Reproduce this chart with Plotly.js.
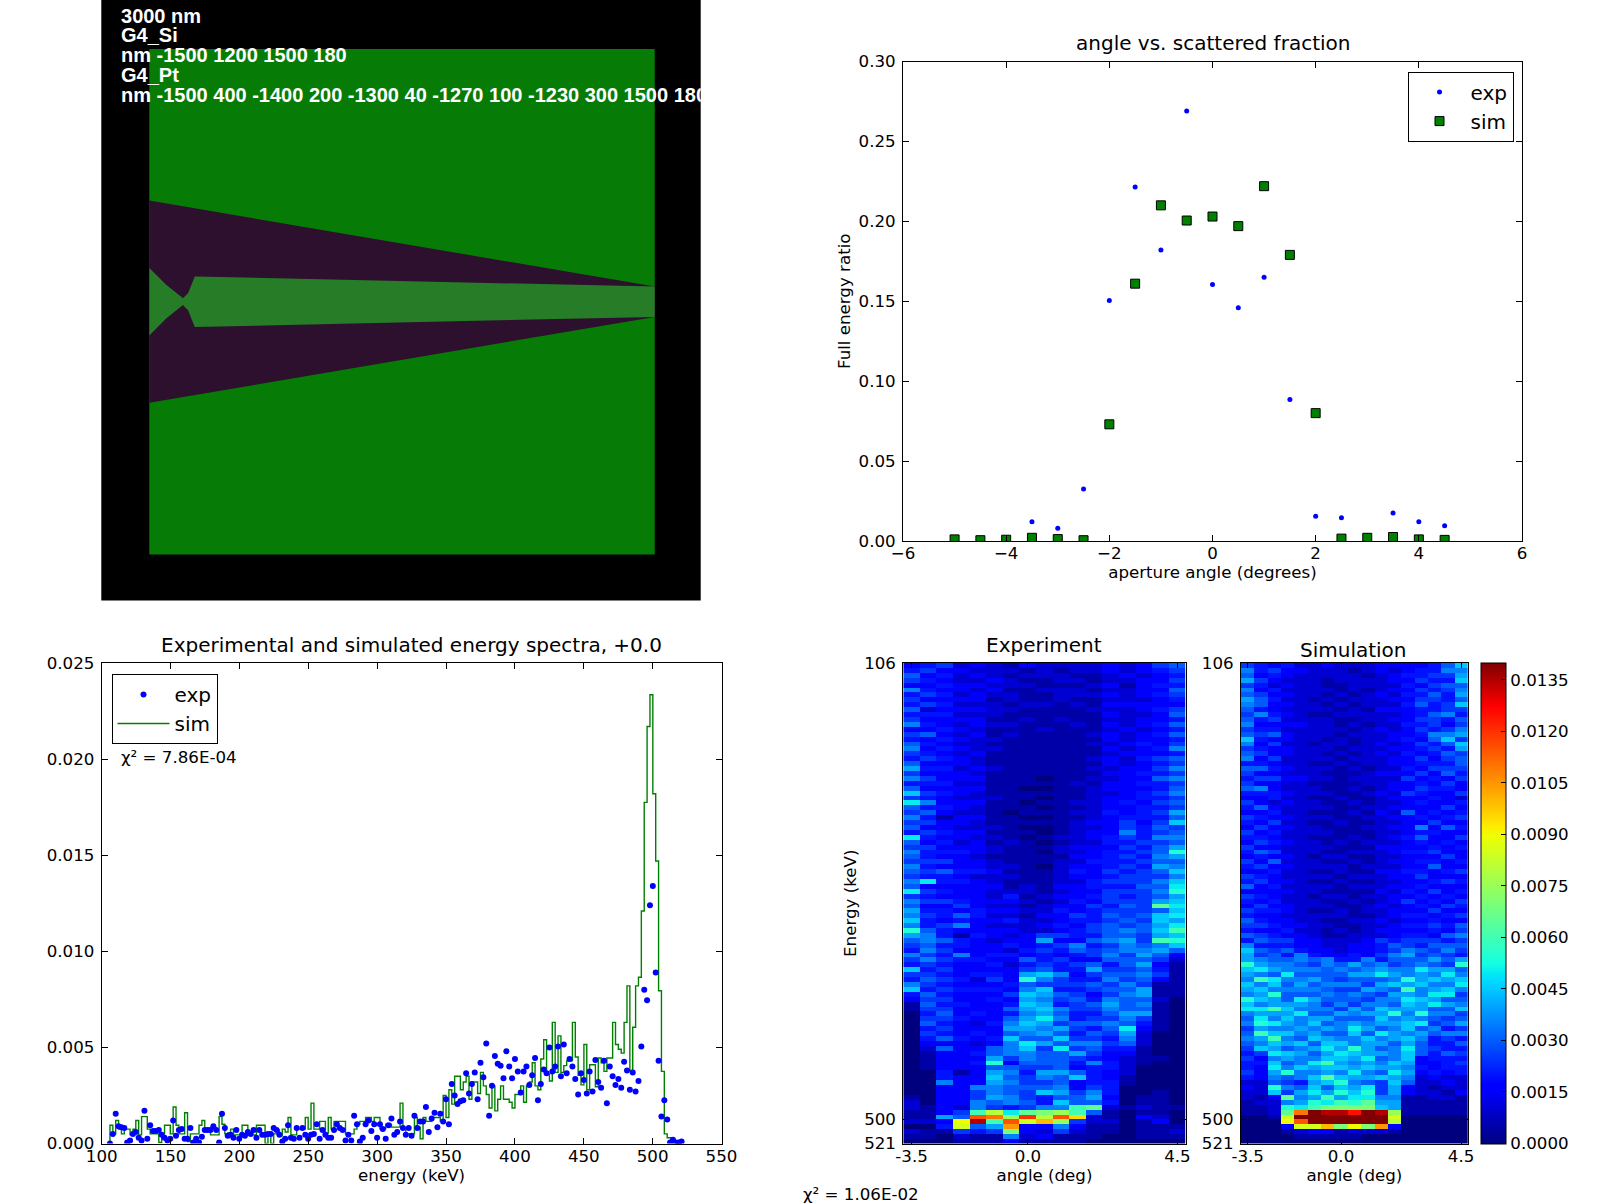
<!DOCTYPE html>
<html><head><meta charset="utf-8">
<script src="https://cdn.plot.ly/plotly-3.0.1.min.js"></script>
<style>html,body{margin:0;padding:0;background:#fff}</style></head>
<body><div id="chart" style="width:1604px;height:1204px"></div>
<script>
// Geometry panel (nm)
const boxX=[-1500,1500,1500,-1500,-1500];
const boxY=[1500,1500,-1500,-1500,1500];
const siX=[-1500,1500];
const siThickness=[1200,180];
const ptX=[-1500,-1400,-1300,-1270,-1230,1500];
const ptThickness=[400,200,40,100,300,180];
const geometryLines=["3000 nm","G4_Si","nm -1500 1200 1500 180","G4_Pt","nm -1500 400 -1400 200 -1300 40 -1270 100 -1230 300 1500 180"];

// Angle vs. scattered fraction
const ratioAngles=[-5,-4.5,-4,-3.5,-3,-2.5,-2,-1.5,-1,-0.5,0,0.5,1,1.5,2,2.5,3,3.5,4,4.5];
const ratioExp=[0.0005,0.0005,0.0005,0.012,0.008,0.0325,0.1505,0.2215,0.182,0.269,0.1605,0.146,0.165,0.0885,0.0155,0.0145,0.003,0.0175,0.012,0.0095];
const ratioSim=[0.001,0.0005,0.0008,0.002,0.0012,0.0005,0.073,0.161,0.21,0.2005,0.203,0.197,0.222,0.179,0.08,0.0015,0.002,0.0025,0.001,0.0007];

// Energy spectra, values in units of 1e-3
const specExp=[0,.5,1.55,.9,.85,.8,.05,.15,.5,.6,.3,.15,1.7,.25,.95,.65,.65,.7,.45,.3,.15,.25,1.2,.4,.7,.75,.25,.25,.8,.05,.25,.05,.35,.7,.7,.7,.9,.7,.05,1.55,.8,.4,.45,.3,.7,.25,.45,.4,.6,.5,.7,.3,.7,.45,.45,.5,.5,.8,.7,.45,.1,.25,.95,.3,.25,.8,.3,.8,.45,.25,.45,.5,1,.25,.7,.45,.3,.3,.7,1,.8,.7,.15,.45,.15,1.45,1,.1,.3,1,1.2,.65,1,.3,1,.75,.25,.95,1.3,.45,.6,1.15,.8,.45,.8,.4,1.45,.8,1.15,1.15,1.9,.6,1.3,1.6,.85,1.55,1.15,2.3,1,3.1,2.5,2.05,2.2,2.25,3.65,2.6,3.1,3.7,2.3,4.2,3.45,5.2,1.45,3,4.55,4.15,4.05,3.4,4.8,4,3.4,4.4,3.75,2.65,3.75,4,3.05,3.55,4.45,2.25,3.1,3.85,3.65,5,3.75,4,5.05,3.5,5.15,3.65,4.4,4,3.35,2.55,3.65,3.3,2.6,3.75,2.7,4.35,3.2,2.9,4.3,2.1,4,3.5,3.05,3.35,2.9,4.25,3.8,2.8,3.7,2.7,3.25,5.05,8,7.45,12.4,13.4,8.9,4.3,1.4,2.25,1.25,.05,.2,.05,.05,.1];
const specSim=[.95,.5,1.2,.75,.5,.75,.75,.45,.75,1.2,.45,1.4,1.4,.75,.5,.5,.5,.05,.5,.95,.95,.5,1.9,.95,.5,.5,1.6,.1,.5,.5,.5,.95,1.2,.75,.75,.45,.45,.45,1.4,1,.5,.55,.75,.45,.45,.45,.95,.95,.45,.45,.45,.95,.95,.95,0,.45,0,.5,.7,.4,.75,.6,1.35,.45,.45,.75,.75,.75,1.35,.75,2.1,.75,.75,1.15,1.15,.55,1.35,.75,1.15,1.15,1.15,1.15,.5,.5,.5,.75,1,1.15,1.15,1.35,1.35,1.15,1.35,1.35,.75,.75,1,1,.85,.85,.85,2.1,.75,.5,.5,.5,1.35,.85,.25,1.35,1.15,1.15,1.35,1.35,1.35,1.15,2.5,1.35,2.8,2.05,3.5,3.5,2.8,3.2,3.5,2.3,3.2,3.2,2.6,3.7,3,2.55,1.85,3,1.7,2.3,3,2.3,2.3,2.15,1.85,2.55,2.55,3,2.15,3,3.2,4.2,3,2.8,4.4,5.4,3.6,3.25,6.3,3.7,5.6,3.7,4.05,4.3,4.3,6.3,4.5,3.55,3.05,5.15,2.8,4.1,4.1,2.95,4.45,4.2,3.75,4.45,4.45,6.3,5.15,4.9,4.7,6.3,8.2,3.8,6.05,8.2,8.65,12.1,17.75,21.7,23.35,18.2,14.7,7.95,3.75,.5,.3,.3,.1,0,0,0];
const specTicksX=[100,150,200,250,300,350,400,450,500,550];
const specTicksY=[0,0.005,0.01,0.015,0.02,0.025];

// Maps: columns are angles, rows run down in energy; units of 0.0005
const mapAngles=[-3.5,-3,-2.5,-2,-1.5,-1,-0.5,0,0.5,1,1.5,2,2.5,3,3.5,4,4.5];
const mapExp=[
[3,4,5,2,3,2,1,3,2,2,2,2,3,2,3,5,6],[4,5,3,3,2,2,2,1,2,1,2,2,3,2,3,4,5],[6,3,4,2,3,2,1,2,2,2,1,1,2,3,2,3,4],[5,4,3,2,2,3,2,1,1,2,2,1,2,2,3,3,5],
[3,3,4,3,3,2,2,2,1,1,1,2,3,1,3,4,4],[7,4,3,3,2,3,1,1,2,2,2,1,2,2,3,3,6],[4,5,4,2,3,2,2,1,1,2,2,2,3,2,3,4,5],[5,3,3,3,3,1,2,1,1,2,1,1,2,2,2,3,4],
[4,5,4,2,2,2,1,2,2,1,2,1,3,3,3,3,3],[6,2,3,3,3,2,2,1,1,1,1,2,2,2,3,4,5],[4,4,4,2,2,2,1,1,1,1,1,1,3,2,2,3,6],[5,3,3,3,3,1,1,2,1,2,1,1,2,2,3,3,4],
[7,4,3,2,3,2,2,1,1,1,2,1,3,2,3,4,6],[3,3,4,3,2,1,1,1,2,1,1,1,2,3,2,3,4],[5,6,3,2,3,1,2,1,1,1,1,2,3,2,3,4,6],[4,3,4,3,2,2,1,1,1,1,1,1,3,2,3,3,4],
[6,4,3,2,2,1,1,1,1,1,1,2,2,3,4,3,5],[7,3,4,3,2,2,1,1,1,1,1,1,3,2,3,4,7],[5,4,3,2,3,1,1,1,1,1,1,1,2,3,3,3,4],[4,5,4,3,2,1,1,1,1,1,1,2,3,2,4,5,6],
[6,3,3,3,2,1,1,1,1,1,1,1,3,2,3,4,5],[8,4,4,2,3,2,1,1,1,1,1,2,2,3,3,5,7],[5,3,3,3,2,1,1,1,1,1,1,1,3,3,4,4,5],[7,5,3,3,3,1,1,1,0,1,1,2,2,3,3,6,7],
[4,4,4,2,2,1,1,1,1,1,2,1,3,3,4,4,5],[6,3,3,3,3,1,1,0,0,1,1,2,3,3,3,4,6],[9,5,4,3,2,1,1,1,1,1,1,2,2,3,4,5,7],[5,4,3,2,2,2,1,1,0,1,1,2,3,3,4,4,5],
[10,7,3,3,3,1,1,0,1,1,2,2,3,4,3,5,6],[6,4,4,3,2,1,1,1,0,1,1,2,3,3,4,4,5],[5,6,3,2,2,1,0,1,1,1,2,2,4,3,4,5,8],[7,4,1,3,3,1,1,0,0,1,1,2,3,4,4,4,6],
[5,5,3,3,2,1,1,1,1,1,2,3,3,5,3,5,9],[6,3,3,2,2,2,1,0,0,1,2,2,3,5,4,6,5],[4,5,4,3,3,1,1,1,0,1,2,3,3,7,4,5,6],[10,4,3,3,2,2,1,0,1,2,2,3,4,5,4,7,7],
[6,3,4,2,3,1,2,1,0,1,2,2,4,4,5,5,6],[5,5,3,3,3,2,1,1,1,2,3,3,3,5,4,6,8],[7,4,4,4,3,2,1,1,0,2,2,3,4,4,5,6,11],[6,4,3,3,2,1,1,1,1,1,3,3,4,5,4,7,8],
[5,5,5,3,3,2,1,1,1,2,2,4,4,4,5,6,6],[7,4,3,3,3,2,2,1,0,2,3,3,4,5,4,8,7],[6,5,6,4,4,3,1,1,1,2,4,3,5,4,5,6,9],[5,4,4,3,2,2,2,1,1,2,3,3,4,5,5,5,7],
[7,10,4,4,3,2,1,1,1,2,2,4,5,5,5,7,9],[6,3,3,3,3,3,1,2,1,3,3,4,4,4,6,6,10],[10,5,4,3,3,2,2,2,1,2,3,3,5,5,5,7,11],[5,4,3,3,3,2,4,1,2,3,3,4,5,4,5,6,8],
[7,5,5,4,3,3,3,2,1,2,4,3,5,5,5,8,9],[6,3,3,5,3,2,2,1,2,3,3,5,4,6,5,13,10],[8,4,4,3,4,3,3,2,2,4,3,4,5,5,5,6,9],[7,5,4,6,4,2,2,1,3,3,5,4,6,5,6,9,10],
[9,4,3,4,3,3,4,2,2,3,4,4,5,6,5,9,8],[7,4,5,7,3,2,2,2,3,4,3,5,6,5,6,8,10],[11,6,4,3,3,3,3,2,2,3,4,5,6,7,6,9,12],[8,7,4,1,4,3,2,3,5,5,4,4,6,6,5,8,9],
[6,7,6,4,3,2,3,3,8,3,3,6,7,8,5,12,11],[5,6,4,4,3,3,4,3,4,5,7,4,5,7,6,7,9],[4,7,5,3,3,3,2,4,5,4,6,5,6,7,7,8,6],[7,5,4,7,3,4,4,3,4,3,4,5,7,5,8,6,3],
[5,7,5,4,4,3,3,6,4,5,3,3,6,6,6,5,2],[4,5,4,3,3,4,2,4,5,4,5,6,4,6,8,3,1],[9,4,5,3,3,3,3,5,6,4,4,8,5,5,6,4,1],[5,5,4,3,4,4,3,8,9,7,3,5,6,6,7,5,1],
[4,6,5,4,2,5,3,11,7,5,4,4,7,5,6,3,1],[7,5,4,3,3,3,4,6,5,5,5,6,5,7,5,1,1],[9,4,5,4,4,4,3,7,9,4,4,5,6,6,8,1,1],[4,6,4,3,3,3,5,9,8,6,5,3,5,7,8,1,1],
[3,5,5,3,3,4,3,8,7,5,6,4,7,6,6,2,0],[1,6,4,4,3,3,4,9,8,4,5,6,8,6,7,1,0],[1,5,5,3,3,3,6,8,9,7,5,5,7,6,6,1,0],[0,4,6,3,4,3,4,7,8,6,4,4,6,8,8,1,0],
[0,5,5,4,3,3,6,8,10,7,4,5,5,7,5,1,0],[0,6,4,3,2,4,7,9,8,5,6,6,7,6,4,1,0],[0,4,5,3,3,3,8,8,7,8,5,4,6,10,3,1,0],[0,5,4,3,4,3,6,7,8,6,4,6,5,8,2,0,0],
[0,4,6,4,3,4,9,6,6,9,5,5,4,7,2,0,0],[0,3,3,3,2,3,7,10,8,6,7,7,5,6,2,0,0],[0,2,6,3,3,6,7,9,5,10,5,6,4,4,1,0,0],[0,1,3,3,4,6,7,7,6,6,8,5,3,3,1,0,0],
[0,1,3,3,3,8,5,7,6,6,5,4,3,2,1,1,0],[0,1,3,3,4,11,3,6,6,6,4,7,4,2,1,0,0],[0,1,3,3,3,6,6,5,5,6,3,4,4,2,0,0,0],[0,0,4,1,3,8,7,4,8,8,6,4,3,2,0,0,0],
[0,0,4,3,3,9,6,5,7,6,9,4,3,1,0,0,0],[0,0,7,3,3,8,7,5,5,6,3,4,4,1,0,0,0],[0,0,3,3,7,7,6,6,6,7,3,5,4,0,0,0,0],[0,0,3,3,5,7,6,5,9,8,5,7,4,0,0,1,0],
[1,0,3,3,5,8,7,5,4,6,6,8,3,0,1,1,0],[2,0,3,3,7,6,7,6,4,9,6,6,4,0,1,1,0],[2,1,3,2,7,5,4,5,7,7,12,13,2,1,2,1,1],[1,1,3,5,12,16,10,13,14,15,12,6,1,0,1,1,0],
[1,1,8,6,23,22,15,24,16,23,19,2,1,0,3,2,0],[2,2,3,18,27,12,23,17,20,15,5,2,2,0,1,3,0],[0,0,4,17,6,8,21,3,3,7,3,1,1,0,1,1,1],[2,1,1,5,4,5,14,3,2,5,2,1,1,0,1,1,2],
[1,1,0,2,1,1,7,2,3,1,1,1,0,0,1,1,1],[0,0,0,1,1,1,3,1,1,1,1,0,0,0,0,0,0]];
const mapSim=[
[5,4,3,4,2,2,3,2,2,2,3,3,3,3,4,6,9],[7,4,5,3,3,2,2,2,1,2,3,2,3,4,4,7,7],[6,3,4,3,2,2,2,2,2,1,2,3,4,4,5,5,8],[8,5,3,2,2,2,1,2,2,2,2,3,3,5,4,4,9],
[5,4,2,3,2,2,1,1,2,2,2,2,4,3,5,6,6],[7,3,4,2,2,2,2,1,2,1,2,3,3,5,4,5,7],[6,5,3,3,2,2,1,2,1,2,3,2,4,4,6,4,8],[8,6,4,2,2,1,2,1,2,2,2,3,3,5,5,4,6],
[7,6,3,3,2,2,1,2,1,2,2,2,4,6,4,5,9],[6,4,3,2,2,2,2,1,2,1,3,3,3,4,4,5,5],[5,7,4,3,2,1,1,2,2,2,2,2,3,4,6,7,4],[6,4,5,2,2,2,2,1,1,2,2,3,3,5,5,4,6],
[7,3,3,3,3,2,2,1,2,1,2,2,4,4,5,3,5],[5,4,4,2,2,2,2,2,1,2,3,2,3,5,4,5,7],[6,5,6,3,2,2,2,1,2,2,2,3,3,4,7,7,8],[9,4,3,3,2,2,1,2,1,2,2,3,4,3,6,9,5],
[7,3,5,2,2,1,2,2,1,2,3,2,3,5,4,6,9],[5,4,3,3,2,2,2,1,2,2,2,3,3,4,5,4,8],[6,5,3,3,2,2,1,2,1,2,3,2,4,3,4,6,5],[7,3,5,2,2,2,2,1,2,2,2,3,3,5,3,5,6],
[4,4,3,2,2,1,1,2,1,2,2,3,3,4,4,4,6],[6,6,4,3,2,2,2,1,2,1,2,2,4,3,5,5,5],[5,3,3,2,2,2,1,1,1,2,3,3,3,5,3,6,4],[4,5,5,3,3,2,2,1,2,2,2,2,5,3,4,3,5],
[5,3,3,2,2,1,1,1,1,2,2,3,3,4,3,5,3],[6,7,3,2,2,2,1,1,2,1,2,3,3,5,4,4,3],[4,4,4,3,2,2,2,1,1,2,3,2,5,4,3,3,5],[3,3,4,2,2,1,1,2,1,1,2,3,3,3,4,3,2],
[5,3,2,3,2,2,1,1,2,1,2,2,3,4,3,3,4],[4,6,3,2,2,2,2,1,1,2,2,3,3,3,3,5,3],[3,3,4,2,2,1,1,1,2,1,3,2,6,3,4,3,4],[5,4,3,3,2,2,2,1,1,2,2,3,3,4,3,4,5],
[4,3,5,2,2,1,1,2,1,1,2,2,3,3,5,3,3],[3,5,3,3,2,2,1,1,1,2,2,3,3,7,3,6,4],[5,3,4,2,2,2,2,1,1,1,2,2,3,4,4,3,3],[4,4,3,2,2,1,1,1,2,1,2,3,4,6,3,3,5],
[3,5,4,3,2,2,1,2,1,2,2,2,3,4,3,4,3],[5,3,3,2,2,2,2,1,1,1,3,3,3,3,4,3,4],[4,6,5,2,2,2,1,1,2,2,2,3,4,4,5,3,3],[3,4,3,3,2,1,2,2,1,1,2,2,3,3,3,5,3],
[5,3,6,2,2,2,1,1,2,1,2,3,3,4,4,3,4],[4,5,3,3,2,2,2,2,1,2,2,2,3,3,6,3,3],[3,3,4,2,2,1,1,2,1,1,3,3,4,4,3,4,5],[5,4,3,2,2,2,2,1,2,2,2,3,3,5,3,3,3],
[4,5,3,3,2,1,1,2,1,1,2,2,3,3,4,5,4],[6,3,4,2,2,2,2,1,2,2,2,3,3,4,3,3,3],[3,3,3,3,2,2,1,1,1,1,3,2,4,3,5,3,4],[5,4,3,2,2,1,2,2,1,2,2,3,3,4,3,4,3],
[4,3,4,2,2,2,1,1,2,1,2,3,5,3,4,3,5],[3,5,3,3,2,2,2,1,1,2,3,2,3,4,3,5,4],[5,4,4,3,2,1,1,2,1,2,2,3,3,3,5,3,3],[4,3,3,2,2,2,2,2,1,1,2,3,4,4,3,4,5],
[6,4,3,3,2,2,1,1,2,2,3,2,3,3,4,3,3],[5,5,4,3,3,2,2,1,1,2,2,3,4,4,5,4,6],[4,3,3,4,2,2,1,2,1,2,3,3,3,3,4,3,5],[6,5,4,3,3,2,1,1,2,2,2,3,4,4,3,6,7],
[4,6,5,5,3,3,2,2,2,3,5,4,5,5,5,4,5],[7,4,4,4,3,3,2,2,3,3,4,6,5,4,6,6,6],[9,6,5,6,4,3,3,2,3,3,4,5,7,6,5,7,5],[8,5,6,4,7,4,3,3,4,3,5,7,8,5,6,5,4],
[8,7,6,6,7,6,7,4,4,7,4,6,6,6,8,6,8],[11,8,7,7,6,5,7,6,8,6,7,5,6,7,6,5,11],[9,10,8,7,7,7,6,7,6,7,8,7,7,10,8,8,6],[8,7,6,10,6,6,6,6,8,8,10,8,7,8,7,10,7],
[7,12,10,7,7,8,6,5,6,6,6,7,11,8,9,8,9],[9,7,9,6,8,6,7,7,7,5,8,9,8,9,7,7,10],[8,9,7,7,7,7,6,5,5,8,7,6,12,7,8,9,7],[7,8,11,6,6,6,7,6,7,6,5,8,8,7,10,10,5],
[11,9,8,6,10,8,6,6,6,5,7,7,10,9,8,6,6],[9,7,8,8,8,7,5,7,5,7,7,6,9,8,10,8,7],[10,10,12,9,7,7,7,5,8,6,9,8,8,8,6,6,9],[7,8,8,8,10,6,6,8,7,8,8,11,7,11,7,7,5],
[6,10,7,9,7,8,8,6,6,6,9,7,8,7,6,5,6],[7,11,10,8,7,9,6,7,8,7,8,8,9,10,5,6,8],[5,8,7,7,8,7,8,7,10,8,6,7,9,6,7,4,5],[6,12,9,9,7,8,6,6,9,6,10,8,7,8,6,7,7],
[7,8,12,7,6,9,8,7,7,9,7,8,9,7,4,5,4],[6,7,9,8,9,6,9,9,7,8,8,6,8,6,4,4,6],[5,9,8,6,7,8,10,8,11,8,6,7,10,6,5,4,4],[4,5,10,9,8,6,8,10,9,8,8,7,9,6,4,6,5],
[5,3,7,8,7,7,9,9,8,10,6,7,9,3,4,4,4],[4,4,9,6,7,10,12,8,7,8,7,9,8,3,3,4,5],[4,3,10,7,9,8,9,9,8,9,8,8,7,4,3,4,4],[5,3,8,11,7,7,8,7,10,7,6,10,8,3,4,3,4],
[4,3,7,6,7,9,13,9,8,8,9,8,7,2,3,2,2],[2,2,6,5,4,8,9,11,7,6,5,9,6,2,2,3,2],[3,2,11,7,6,9,6,9,8,10,5,8,3,2,1,2,2],[2,2,9,5,8,10,8,11,9,11,5,8,3,2,2,1,3],
[2,1,3,13,7,8,12,8,10,10,7,7,1,1,2,2,1],[1,2,2,7,8,11,10,12,11,13,8,8,1,1,1,1,1],[1,1,2,11,10,12,14,14,14,14,9,8,1,1,1,1,1],[1,1,2,13,22,28,27,27,25,28,27,15,1,1,1,1,1],
[0,0,1,17,28,28,28,28,28,28,28,17,0,0,0,0,0],[0,0,0,18,23,28,28,28,28,28,28,16,0,0,0,0,0],[0,0,0,3,17,17,20,14,18,14,21,3,0,0,0,0,0],[0,0,0,1,2,3,3,1,2,2,2,1,0,0,0,0,0],
[0,0,0,0,1,1,1,1,1,0,0,0,0,0,0,0,0],[0,0,0,0,0,0,0,0,0,0,0,0,0,0,0,0,0]];
const mapYTicks=[106,500,521];
const mapXTicks=[-3.5,0,4.5];
const mapXLabels=["-3.5","0.0","4.5"];
const barTicks=[0,0.0015,0.003,0.0045,0.006,0.0075,0.009,0.0105,0.012,0.0135];
const barLabels=["0.0000","0.0015","0.0030","0.0045","0.0060","0.0075","0.0090","0.0105","0.0120","0.0135"];

const H=1204,W=1604;
const FONT="DejaVu Sans";
const px=(a,b)=>[a/W,b/W];
const py=(top,bot)=>[1-bot/H,1-top/H];
const band=(xs,ts,c)=>({type:'scatter',mode:'lines',x:xs.concat(xs.slice().reverse()),y:ts.map(t=>t/2).concat(ts.slice().reverse().map(t=>-t/2)),fill:'toself',fillcolor:c,line:{width:0,color:c},xaxis:'x',yaxis:'y',showlegend:false,hoverinfo:'skip'});
const jet=[[0,'rgb(0,0,127)'],[0.11,'rgb(0,0,255)'],[0.125,'rgb(0,0,255)'],[0.34,'rgb(0,219,255)'],[0.35,'rgb(0,229,247)'],[0.375,'rgb(20,255,226)'],[0.64,'rgb(238,255,0)'],[0.65,'rgb(247,245,0)'],[0.66,'rgb(255,236,0)'],[0.89,'rgb(255,18,0)'],[0.91,'rgb(255,0,0)'],[1,'rgb(127,0,0)']];
const binStart=106,binWidth=(521-106)/(specExp.length-1);
const specE=specExp.map((_,i)=>binStart+i*binWidth);
const simE=specSim.map((_,i)=>binStart+i*binWidth);
const toZ=m=>m.map(r=>r.map(v=>v*0.0005));
const rowsY0=106+415/mapExp.length/2,rowsDy=415/mapExp.length;

const data=[
 {type:'scatter',mode:'lines',x:boxX,y:boxY,fill:'toself',fillcolor:'#067c06',line:{width:0,color:'#067c06'},xaxis:'x',yaxis:'y',showlegend:false,hoverinfo:'skip'},
 band(siX,siThickness,'#2d102d'),
 band(ptX,ptThickness,'#277c27'),
 {type:'scatter',mode:'text',x:geometryLines.map(()=>-1668),y:[1686,1571,1452,1333,1212],text:geometryLines,textposition:'middle right',cliponaxis:true,textfont:{family:'Liberation Sans',size:20,color:'#fff',weight:700},xaxis:'x',yaxis:'y',showlegend:false,hoverinfo:'skip'},
 {type:'scatter',mode:'markers',name:'exp',x:ratioAngles,y:ratioExp,marker:{color:'#0000ff',size:5,line:{width:0}},xaxis:'x2',yaxis:'y2',legend:'legend',legendrank:1},
 {type:'scatter',mode:'markers',name:'sim',x:ratioAngles,y:ratioSim,marker:{color:'#008000',symbol:'square',size:9,line:{width:1,color:'#000'}},xaxis:'x2',yaxis:'y2',legend:'legend',legendrank:2},
 {type:'scatter',mode:'lines',name:'sim',x:[simE[0]].concat(simE),y:[0].concat(specSim.map(v=>v*1e-3)),line:{color:'#008000',width:1.4,shape:'hv'},xaxis:'x3',yaxis:'y3',legend:'legend2',legendrank:2},
 {type:'scatter',mode:'markers',name:'exp',x:specE,y:specExp.map(v=>v*1e-3),marker:{color:'#0000ff',size:6,line:{width:0}},xaxis:'x3',yaxis:'y3',legend:'legend2',legendrank:1},
 {type:'heatmap',x:mapAngles,y0:rowsY0,dy:rowsDy,z:toZ(mapExp),zmin:0,zmax:0.014,colorscale:jet,showscale:false,xaxis:'x4',yaxis:'y4',hoverinfo:'skip'},
 {type:'heatmap',x:mapAngles,y0:rowsY0,dy:rowsDy,z:toZ(mapSim),zmin:0,zmax:0.014,colorscale:jet,xaxis:'x5',yaxis:'y5',hoverinfo:'skip',
  colorbar:{x:1481/W,xanchor:'left',xpad:0,ypad:0,y:1-1143.5/H,yanchor:'bottom',len:481/H,lenmode:'fraction',thickness:25,thicknessmode:'pixels',tickmode:'array',tickvals:barTicks,ticktext:barLabels,ticks:'inside',ticklen:5,tickcolor:'#000',outlinecolor:'#000',outlinewidth:1,tickfont:{family:FONT,size:16.67,color:'#000'},showticklabels:true}}
];
const base={showgrid:false,zeroline:false,showline:true,linecolor:'#000',linewidth:1,mirror:'allticks',ticks:'inside',ticklen:6,tickcolor:'#000',tickwidth:1,tickfont:{family:FONT,size:16.67,color:'#000'}};
const xb=Object.assign({},base,{ticklabelstandoff:-3});
const yb=Object.assign({},base,{ticklabelstandoff:3});
const ttl=(t,s)=>({text:t,font:{family:FONT,size:16.67,color:'#000'},standoff:s});
const note=(t,x,y,size)=>({text:t,xref:'paper',yref:'paper',x:x/W,y:1-y/H,xanchor:'center',yanchor:'middle',showarrow:false,font:{family:FONT,size:size,color:'#000'}});
const legendBase={bgcolor:'#fff',bordercolor:'#000',borderwidth:1,font:{family:FONT,size:20,color:'#000'},xanchor:'left',yanchor:'top',itemwidth:52,traceorder:'normal',itemclick:false,itemdoubleclick:false};
const layout={
 width:W,height:H,margin:{l:0,r:0,t:0,b:0},paper_bgcolor:'#fff',plot_bgcolor:'#fff',
 xaxis:{domain:px(101.3,700.7),range:[-1785,1773],visible:false,anchor:'y'},
 yaxis:{domain:py(0,600.5),range:[-1773,1790.5],visible:false,anchor:'x'},
 xaxis2:Object.assign({},xb,{domain:px(903,1522),range:[-6,6],tickvals:[-6,-4,-2,0,2,4,6],anchor:'y2',title:ttl('aperture angle (degrees)',4)}),
 yaxis2:Object.assign({},yb,{domain:py(61.5,541),range:[0,0.3],tickvals:[0,0.05,0.1,0.15,0.2,0.25,0.3],tickformat:'.2f',anchor:'x2',title:ttl('Full energy ratio',3)}),
 xaxis3:Object.assign({},xb,{domain:px(101.7,721.5),range:[100,550],tickvals:specTicksX,anchor:'y3',title:ttl('energy (keV)',4)}),
 yaxis3:Object.assign({},yb,{domain:py(663,1143.5),range:[0,0.025],tickvals:specTicksY,tickformat:'.3f',anchor:'x3'}),
 xaxis4:Object.assign({},xb,{domain:px(903.3,1185.7),range:[-3.75,4.75],tickvals:mapXTicks,ticktext:mapXLabels,anchor:'y4',ticklen:5,title:ttl('angle (deg)',4)}),
 yaxis4:Object.assign({},yb,{domain:py(663,1143.5),range:[521,106],tickvals:mapYTicks,anchor:'x4',ticklen:5,title:ttl('Energy (keV)',3)}),
 xaxis5:Object.assign({},xb,{domain:px(1241,1467.7),range:[-3.75,4.75],tickvals:mapXTicks,ticktext:mapXLabels,anchor:'y5',ticklen:5,title:ttl('angle (deg)',4)}),
 yaxis5:Object.assign({},yb,{domain:py(663,1143.5),range:[521,106],tickvals:mapYTicks,anchor:'x5',ticklen:5}),
 legend:Object.assign({},legendBase,{x:1407.5/W,y:1-71.6/H}),
 legend2:Object.assign({},legendBase,{x:111.5/W,y:1-674/H}),
 shapes:[{type:'rect',layer:'below',xref:'x domain',yref:'y domain',x0:0,x1:1,y0:0,y1:1,fillcolor:'#000',line:{width:0}}],
 annotations:[
  note('angle vs. scattered fraction',1213,43,20),
  note('Experimental and simulated energy spectra, +0.0',411.5,645,20),
  note('Experiment',1043.5,645,20),
  note('Simulation',1353.5,650,20),
  note('χ² = 7.86E-04',178.5,757,16.67),
  note('χ² = 1.06E-02',860.5,1194,16.67)
 ]
};
Plotly.newPlot('chart',data,layout,{displayModeBar:false,responsive:false});
</script></body></html>
